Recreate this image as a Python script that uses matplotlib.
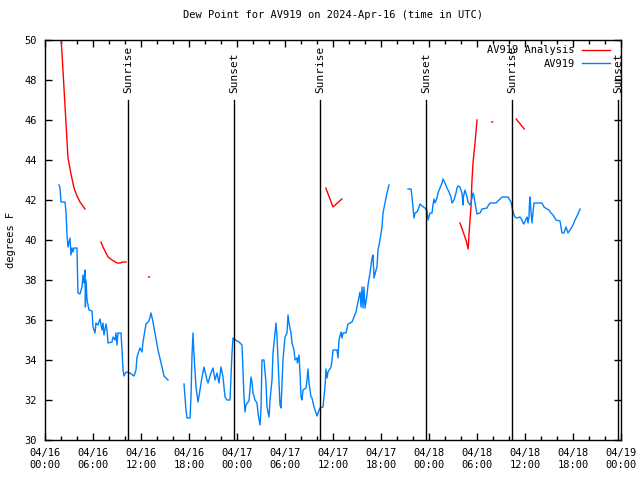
import matplotlib
matplotlib.use('Agg')
import matplotlib.pyplot as plt
import numpy as np

plt.rcParams['font.family'] = 'DejaVu Sans Mono'
plt.rcParams['font.size'] = 7.5

# hours since 2024-04-16 00:00 UTC, NaN marks a gap
obs_hours = [1.75, 1.875, 2.0, 2.5, 2.625, 2.75, 2.875, 3.125, 3.25, 3.375, 3.5, 3.625, 4.0, 4.05,
             4.125, 4.375, 4.625, 4.75, 4.875, 5.0, 5.05, 5.125, 5.25, 5.5, 5.875, 6.0, 6.25, 6.375,
             6.625, 6.875, 7.125, 7.25, 7.375, 7.625, 7.75, 7.875, 8.375, 8.5, 8.75, 8.875, 9.0,
             9.125, 9.5, 9.625, 9.75, 9.875, 10.125, 10.625, 11.125, 11.375, 11.5, 11.875, 12.125,
             12.25, 12.625, 13.0, 13.25, 13.5, 13.75, 14.125, 14.625, 14.875, 15.375, np.nan,
             17.375, 17.625, 17.75, 18.125, 18.25, 18.375, 18.5, 18.625, 18.875, 19.125, 19.375,
             19.625, 19.875, 20.25, 20.375, 20.75, 21.0, 21.25, 21.5, 21.75, 22.0, 22.25, 22.5,
             22.75, 23.125, 23.375, 23.5, 24.0, 24.25, 24.625, 24.75, 24.875, 25.0, 25.125, 25.375,
             25.5, 25.75, 25.875, 26.0, 26.25, 26.5, 26.625, 26.875, 27.0, 27.125, 27.375, 27.625,
             27.75, 28.0, 28.125, 28.375, 28.5, 28.75, 28.875, 29.0, 29.25, 29.375, 29.5, 29.625,
             29.75, 30.0, 30.25, 30.375, 30.5, 30.75, 30.875, 31.125, 31.25, 31.5, 31.55, 31.75,
             31.875, 32.0, 32.125, 32.25, 32.625, 32.75, 32.875, 33.0, 33.25, 33.375, 33.625,
             33.875, 34.0, 34.125, 34.375, 34.75, 35.0, 35.125, 35.25, 35.375, 35.75, 35.875, 36.0,
             36.5, 36.625, 36.75, 37.0, 37.125, 37.25, 37.625, 37.875, 38.375, 38.625, 38.875,
             39.125, 39.375, 39.5, 39.625, 39.75, 39.875, 40.0, 40.25, 40.375, 40.625, 40.875, 41.0,
             41.125, 41.375, 41.5, 41.625, 41.875, 42.125, 42.25, 42.5, 42.75, 43.0, np.nan,
             45.375, 45.75, 45.875, 46.0, 46.125, 46.25, 46.5, 46.625, 46.875, 47.125, 47.5, 47.75,
             47.875, 48.125, 48.375, 48.5, 48.625, 48.75, 49.0, 49.125, 49.375, 49.625, 49.75, 50.0,
             50.25, 50.5, 50.75, 50.875, 51.125, 51.375, 51.5, 51.625, 51.875, 52.125, 52.25, 52.3,
             52.5, 52.75, 52.875, 53.125, 53.25, 53.5, 53.625, 53.75, 54.0, 54.375, 54.625, 55.25,
             55.375, 55.625, 56.375, 56.625, 57.125, 57.875, 58.25, 58.375, 58.5, 58.75, 59.0,
             59.375, 59.625, 59.75, 59.875, 60.125, 60.25, 60.375, 60.5, 60.55, 60.625, 60.75,
             60.875, 61.0, 61.125, 62.125, 62.375, 62.75, 63.0, 63.25, 63.5, 63.875, 64.375, 64.5,
             64.625, 64.875, 65.125, 65.25, 65.375, 65.625, 66.0, 66.25, 66.625, 66.875]
obs_dewpt = [42.75, 42.6, 41.9, 41.9, 41.4, 40.25, 39.65, 40.1, 39.25, 39.6, 39.4, 39.6, 39.6, 38.5,
             37.35, 37.3, 37.65, 38.25, 37.85, 38.5, 36.65, 38.0, 37.0, 36.5, 36.45, 35.65, 35.35, 35.85,
             35.75, 36.05, 35.5, 35.85, 35.25, 35.8, 35.5, 34.85, 34.9, 35.15, 35.0, 35.35, 34.75,
             35.35, 35.35, 34.5, 33.5, 33.2, 33.4, 33.35, 33.2, 33.5, 34.15, 34.6, 34.4,
             34.9, 35.8, 35.95, 36.35, 35.9, 35.35, 34.5, 33.65, 33.2, 33.0, np.nan,
             32.8, 31.5, 31.1, 31.1, 32.15, 34.25, 35.35, 34.25, 32.65, 31.9, 32.5,
             33.15, 33.65, 33.0, 32.85, 33.35, 33.6, 33.0, 33.35, 32.85, 33.65, 33.15, 32.15,
             32.0, 32.0, 34.35, 35.1, 34.95, 34.9, 34.75, 33.5, 32.15, 31.4, 31.75, 31.9,
             31.95, 33.15, 32.9, 32.35, 32.0, 31.85, 31.35, 30.75, 31.5, 34.0, 34.0, 32.85,
             31.65, 31.15, 32.0, 33.0, 34.35, 35.35, 35.85, 35.15, 32.85, 31.75, 31.6, 32.85,
             34.0, 35.15, 35.35, 36.25, 35.85, 35.35, 34.85, 34.5, 34.0, 34.1, 33.85, 34.25,
             33.35, 32.15, 32.0, 32.5, 32.6, 33.0, 33.55, 32.85, 32.15, 32.1, 31.65,
             31.35, 31.2, 31.35, 31.6, 31.65, 32.65, 33.55, 33.1, 33.4, 33.65, 34.0, 34.5,
             34.5, 34.1, 35.0, 35.4, 35.1, 35.35, 35.35, 35.8, 35.9, 36.15, 36.4,
             36.9, 37.4, 36.65, 37.65, 36.6, 37.65, 36.6, 37.25, 37.75, 38.35, 39.1, 39.25,
             38.1, 38.5, 38.65, 39.5, 40.0, 40.65, 41.35, 41.85, 42.35, 42.75, np.nan,
             42.55, 42.55, 42.15, 41.65, 41.1, 41.35, 41.4, 41.5, 41.8, 41.7, 41.6, 41.45,
             41.0, 41.35, 41.35, 41.75, 42.05, 41.85, 42.1, 42.35, 42.6, 42.85, 43.05, 42.85,
             42.6, 42.4, 42.15, 41.85, 42.0, 42.35, 42.6, 42.7, 42.65, 42.35, 41.75, 42.15,
             42.5, 42.15, 41.9, 41.75, 41.85, 42.35, 42.2, 41.85, 41.3, 41.35, 41.55, 41.6,
             41.7, 41.85, 41.85, 41.95, 42.15, 42.15, 41.9, 41.65, 41.4, 41.15, 41.1,
             41.15, 41.0, 40.85, 40.8, 41.05, 41.15, 40.85, 41.15, 41.75, 42.15, 41.4,
             40.85, 41.4, 41.85, 41.85, 41.65, 41.55, 41.5, 41.35, 41.25, 41.0, 40.95, 40.65,
             40.35, 40.35, 40.65, 40.5, 40.35, 40.5, 40.75, 41.0, 41.3, 41.55]

ana_hours = [2.0, 2.875, 3.25, 3.625, 4.0, 4.375, 5.0, np.nan,
             7.0, 7.25, 7.625, 7.875, 8.375, 9.0, 9.375, 9.75, 10.125, np.nan,
             12.95, 13.05, np.nan,
             35.1, 36.0, 37.1, np.nan,
             51.875, 52.625, 52.9, 53.0, 53.25, 53.375, 53.5, 53.75, 54.0, np.nan,
             55.85, 55.95, np.nan,
             58.9, 59.9]
ana_dewpt = [50.2, 44.1, 43.3, 42.6, 42.2, 41.9, 41.55, np.nan,
             39.9, 39.65, 39.35, 39.15, 39.0, 38.85, 38.85, 38.9, 38.9, np.nan,
             38.15, 38.15, np.nan,
             42.6, 41.65, 42.05, np.nan,
             40.85, 40.0, 39.55, 40.3, 41.65, 43.0, 43.85, 44.85, 46.0, np.nan,
             45.9, 45.9, np.nan,
             46.05, 45.55]

sun_hours = [10.375, 23.625, 34.375, 47.625, 58.375, 71.625]
sun_labels = ['Sunrise', 'Sunset', 'Sunrise', 'Sunset', 'Sunrise', 'Sunset']

tick_hours = list(range(0, 73, 6))
tick_labels = ['04/16\n00:00', '04/16\n06:00', '04/16\n12:00', '04/16\n18:00',
               '04/17\n00:00', '04/17\n06:00', '04/17\n12:00', '04/17\n18:00',
               '04/18\n00:00', '04/18\n06:00', '04/18\n12:00', '04/18\n18:00',
               '04/19\n00:00']

fig = plt.figure(figsize=(6.4, 4.8), dpi=100)
ax = fig.add_axes([45 / 640, 40 / 480, 576 / 640, 400 / 480])

ax.plot(ana_hours, ana_dewpt, color='#ff0000', lw=1, label='AV919 Analysis')
ax.plot(obs_hours, obs_dewpt, color='#0080ff', lw=1, label='AV919')

for h, lab in zip(sun_hours, sun_labels):
    ax.plot([h, h], [30, 47.0], color='black', lw=1)
    ax.text(h, 47.35, lab, rotation=90, ha='center', va='bottom', fontsize=8)

ax.set_xlim(0, 72)
ax.set_ylim(30, 50)
ax.set_xticks(tick_hours)
ax.set_xticklabels(tick_labels)
ax.set_xticks(range(0, 73, 2), minor=True)
ax.set_yticks(range(30, 51, 2))
ax.tick_params(which='both', direction='in', top=True, right=True, width=1)
ax.tick_params(which='major', length=5, pad=6)
ax.tick_params(which='minor', length=3)
for s in ax.spines.values():
    s.set_linewidth(1)

ax.set_ylabel('degrees F', labelpad=6)
ax.set_title('Dew Point for AV919 on 2024-Apr-16 (time in UTC)', fontsize=7.5, pad=16)

ax.legend(loc='upper right', bbox_to_anchor=(0.981, 0.987), frameon=False, markerfirst=False,
          handlelength=2.7, handletextpad=0.7, labelspacing=0.35, borderpad=0, borderaxespad=0)

fig.savefig('out.png', dpi=100)
